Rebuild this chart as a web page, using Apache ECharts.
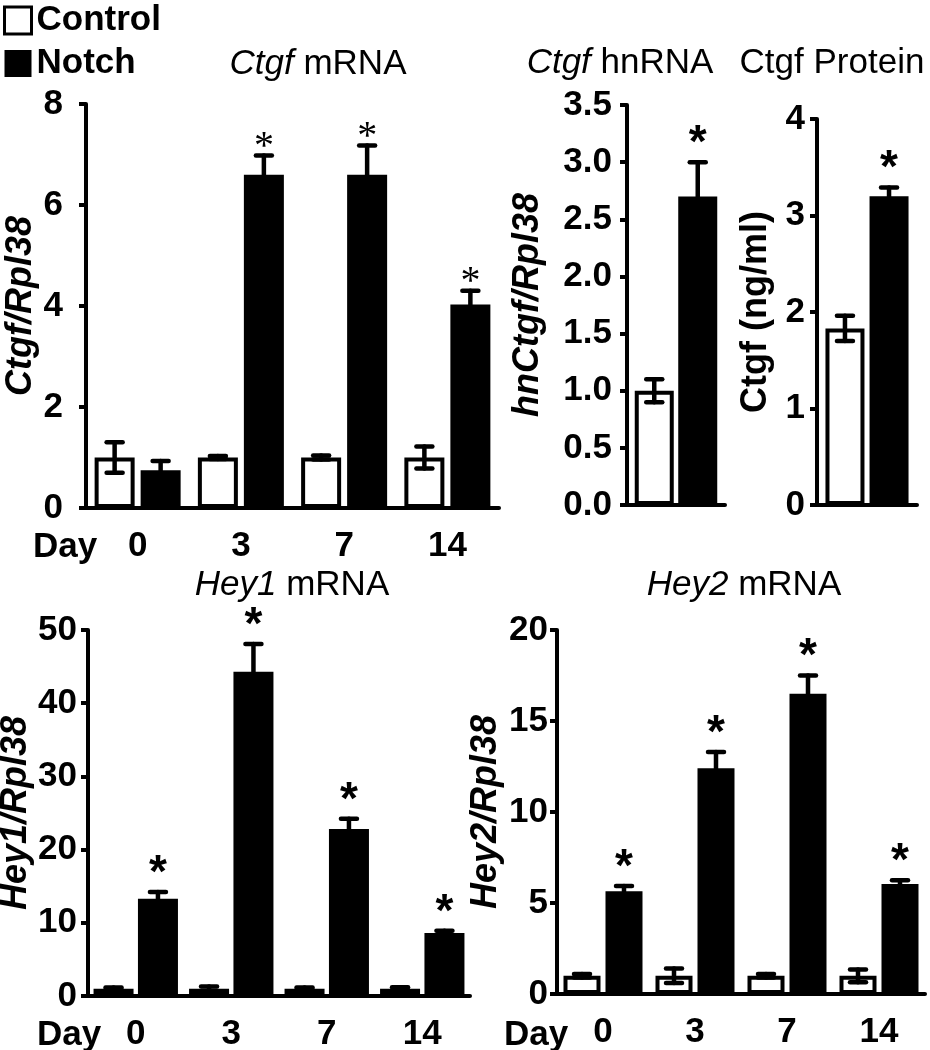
<!DOCTYPE html>
<html><head><meta charset="utf-8">
<script src="https://cdn.jsdelivr.net/npm/echarts@6/dist/echarts.min.js"></script>
<style>html,body{margin:0;padding:0;background:#fff}#c{width:930px;height:1050px}</style>
</head><body><div id="c"></div>
<script>
// ---------- data ----------
const days = ['0', '3', '7', '14'];

const ctgfCtrl = [1.0, 1.0, 1.0, 1.0];
const ctgfCtrlErr = [0.3, 0.03, 0.04, 0.22];
const ctgfNotch = [0.75, 6.6, 6.6, 4.03];
const ctgfNotchErr = [0.18, 0.38, 0.58, 0.27];
const ctgfSig = [0, 1, 1, 1];

const hnCtrl = [1.0];
const hnCtrlErr = [0.1];
const hnNotch = [2.7];
const hnNotchErr = [0.3];
const hnSig = [1];

const protCtrl = [1.83];
const protCtrlErr = [0.13];
const protNotch = [3.2];
const protNotchErr = [0.09];
const protSig = [1];

const hey1Ctrl = [1.0, 1.0, 1.0, 1.0];
const hey1CtrlErr = [0.15, 0.3, 0.15, 0.2];
const hey1Notch = [13.3, 44.3, 22.8, 8.6];
const hey1NotchErr = [0.9, 3.8, 1.4, 0.3];
const hey1Sig = [1, 1, 1, 1];

const hey2Ctrl = [1.0, 1.0, 1.0, 1.0];
const hey2CtrlErr = [0.1, 0.4, 0.1, 0.35];
const hey2Notch = [5.65, 12.4, 16.5, 6.05];
const hey2NotchErr = [0.28, 0.9, 1.0, 0.2];
const hey2Sig = [1, 1, 1, 1];

// ---------- layout / style ----------
const FONT = '"Liberation Sans", Arial, Helvetica, sans-serif';
const SERIF = '"Liberation Serif", "Times New Roman", serif';

const panels = [
  { cats: days, ctrl: ctgfCtrl, ctrlErr: ctgfCtrlErr, notch: ctgfNotch, notchErr: ctgfNotchErr, sig: ctgfSig,
    grid: { left: 86, top: 104, width: 413, height: 404 }, max: 8, interval: 2, dec: 0,
    yName: 'Ctgf/Rpl38', italic: true, nameGap: 47, labelMargin: 23, barWidth: 40, barGap: 0.15,
    showX: true, serifStar: true },
  { cats: [''], ctrl: hnCtrl, ctrlErr: hnCtrlErr, notch: hnNotch, notchErr: hnNotchErr, sig: hnSig,
    grid: { left: 627, top: 105, width: 98, height: 400 }, max: 3.5, interval: 0.5, dec: 1,
    yName: 'hnCtgf/Rpl38', italic: true, nameGap: 81, labelMargin: 15, barWidth: 39, barGap: 0.115,
    showX: false, serifStar: false },
  { cats: [''], ctrl: protCtrl, ctrlErr: protCtrlErr, notch: protNotch, notchErr: protNotchErr, sig: protSig,
    grid: { left: 817, top: 119, width: 100, height: 386 }, max: 4, interval: 1, dec: 0,
    yName: 'Ctgf (ng/ml)', italic: false, nameGap: 43, labelMargin: 12, barWidth: 39, barGap: 0.13,
    showX: false, serifStar: false },
  { cats: days, ctrl: hey1Ctrl, ctrlErr: hey1CtrlErr, notch: hey1Notch, notchErr: hey1NotchErr, sig: hey1Sig,
    grid: { left: 88, top: 630, width: 382, height: 366 }, max: 50, interval: 10, dec: 0,
    yName: 'Hey1/Rpl38', italic: true, nameGap: 53, labelMargin: 11, barWidth: 40, barGap: 0.11,
    showX: true, serifStar: false },
  { cats: days, ctrl: hey2Ctrl, ctrlErr: hey2CtrlErr, notch: hey2Notch, notchErr: hey2NotchErr, sig: hey2Sig,
    grid: { left: 557, top: 630, width: 368, height: 364 }, max: 20, interval: 5, dec: 0,
    yName: 'Hey2/Rpl38', italic: true, nameGap: 53, labelMargin: 9, barWidth: 37, barGap: 0.135,
    showX: true, serifStar: false }
];

const grids = [], xAxes = [], yAxes = [], series = [];

panels.forEach((p, i) => {
  grids.push(Object.assign({ containLabel: false, outerBoundsMode: 'none' }, p.grid));
  xAxes.push({
    type: 'category', gridIndex: i, data: p.cats,
    axisLine: { show: true, onZero: false, lineStyle: { color: '#000', width: 4 } },
    axisTick: { show: false },
    axisLabel: { show: p.showX, color: '#000', fontSize: 35, fontWeight: 'bold', fontFamily: FONT, margin: 21 },
    splitLine: { show: false }
  });
  yAxes.push({
    type: 'value', gridIndex: i, min: 0, max: p.max, interval: p.interval,
    name: p.yName, nameLocation: 'middle', nameGap: p.nameGap, nameRotate: 90,
    nameTextStyle: { color: '#000', fontSize: 36, fontWeight: 'bold', fontStyle: p.italic ? 'italic' : 'normal', fontFamily: FONT },
    axisLine: { show: true, lineStyle: { color: '#000', width: 4 } },
    axisTick: { show: true, length: 7, lineStyle: { color: '#000', width: 4 } },
    axisLabel: { color: '#000', fontSize: 35, fontWeight: 'bold', fontFamily: FONT, margin: p.labelMargin,
      formatter: v => v.toFixed(p.dec) },
    splitLine: { show: false }
  });
  series.push({
    type: 'bar', name: 'Control', xAxisIndex: i, yAxisIndex: i, data: p.ctrl,
    barWidth: p.barWidth, barGap: (p.barGap * 100) + '%',
    itemStyle: { color: '#fff', borderColor: '#000', borderWidth: 4 }, silent: true
  });
  series.push({
    type: 'bar', name: 'Notch', xAxisIndex: i, yAxisIndex: i, data: p.notch,
    barWidth: p.barWidth, barGap: (p.barGap * 100) + '%',
    itemStyle: { color: '#000', borderColor: '#000', borderWidth: 4 }, silent: true
  });
  const errData = [];
  p.ctrl.forEach((v, j) => errData.push([j, v, p.ctrlErr[j], -1, 0]));
  p.notch.forEach((v, j) => errData.push([j, v, p.notchErr[j], 1, p.sig[j]]));
  const off = p.barWidth * (1 + p.barGap) / 2;
  series.push({
    type: 'custom', name: 'err' + i, xAxisIndex: i, yAxisIndex: i, data: errData, z: 5, silent: true,
    dimensions: ['cat', 'val', 'err', 'side', 'star'],
    encode: { x: 0, y: 1 },
    renderItem: function (params, api) {
      const j = api.value(0), v = api.value(1), e = api.value(2), side = api.value(3), star = api.value(4);
      const c = api.coord([j, v]);
      const x = c[0] + side * off;
      const hi = api.coord([j, v + e])[1];
      const lo = api.coord([j, v - e])[1];
      const st = { stroke: '#000', lineWidth: 4.5, lineCap: 'round' };
      const cw = 8;
      const children = [
        { type: 'line', shape: { x1: x, y1: lo, x2: x, y2: hi }, style: st },
        { type: 'line', shape: { x1: x - cw, y1: hi, x2: x + cw, y2: hi }, style: st },
        { type: 'line', shape: { x1: x - cw, y1: lo, x2: x + cw, y2: lo }, style: st }
      ];
      if (star) {
        children.push({
          type: 'text',
          style: p.serifStar
            ? { text: '*', x: x, y: hi - 8, align: 'center', verticalAlign: 'middle', fill: '#000',
                fontSize: 40, fontFamily: SERIF, fontWeight: 'normal' }
            : { text: '*', x: x, y: hi - 18, align: 'center', verticalAlign: 'middle', fill: '#000',
                fontSize: 46, fontFamily: FONT, fontWeight: 'bold' }
        });
      }
      return { type: 'group', children: children };
    }
  });
});

function titleText(x, y, text) {
  return {
    type: 'text', x: x, y: y, silent: true,
    style: { text: text, align: 'center', verticalAlign: 'middle', fill: '#000',
      fontSize: 35, fontFamily: FONT,
      rich: { i: { fontStyle: 'italic', fontSize: 35, fontFamily: FONT, fill: '#000' },
              n: { fontSize: 35, fontFamily: FONT, fill: '#000' } } }
  };
}
function dayText(x, y) {
  return { type: 'text', x: x, y: y, silent: true,
    style: { text: 'Day', align: 'center', verticalAlign: 'middle', fill: '#000',
      fontSize: 35, fontWeight: 'bold', fontFamily: FONT } };
}

const option = {
  backgroundColor: '#fff',
  animation: false,
  textStyle: { fontFamily: FONT },
  legend: {
    orient: 'vertical', left: 3, top: 3, padding: 0, itemGap: 8,
    itemWidth: 27, itemHeight: 27, icon: 'rect', selectedMode: false,
    textStyle: { color: '#000', fontSize: 35, fontWeight: 'bold', fontFamily: FONT, lineHeight: 28 },
    data: [
      { name: 'Control', itemStyle: { color: '#fff', borderColor: '#000', borderWidth: 3 } },
      { name: 'Notch', itemStyle: { color: '#000', borderColor: '#000', borderWidth: 0 } }
    ]
  },
  grid: grids, xAxis: xAxes, yAxis: yAxes, series: series,
  graphic: [
    titleText(318, 64, '{i|Ctgf}{n| mRNA}'),
    titleText(620, 63, '{i|Ctgf}{n| hnRNA}'),
    titleText(832, 63, '{n|Ctgf Protein}'),
    titleText(292, 585, '{i|Hey1}{n| mRNA}'),
    titleText(744, 585, '{i|Hey2}{n| mRNA}'),
    dayText(65, 547),
    dayText(69, 1035),
    dayText(536, 1035)
  ]
};

const chart = echarts.init(document.getElementById('c'), null, { renderer: 'canvas' });
chart.setOption(option);
</script></body></html>
